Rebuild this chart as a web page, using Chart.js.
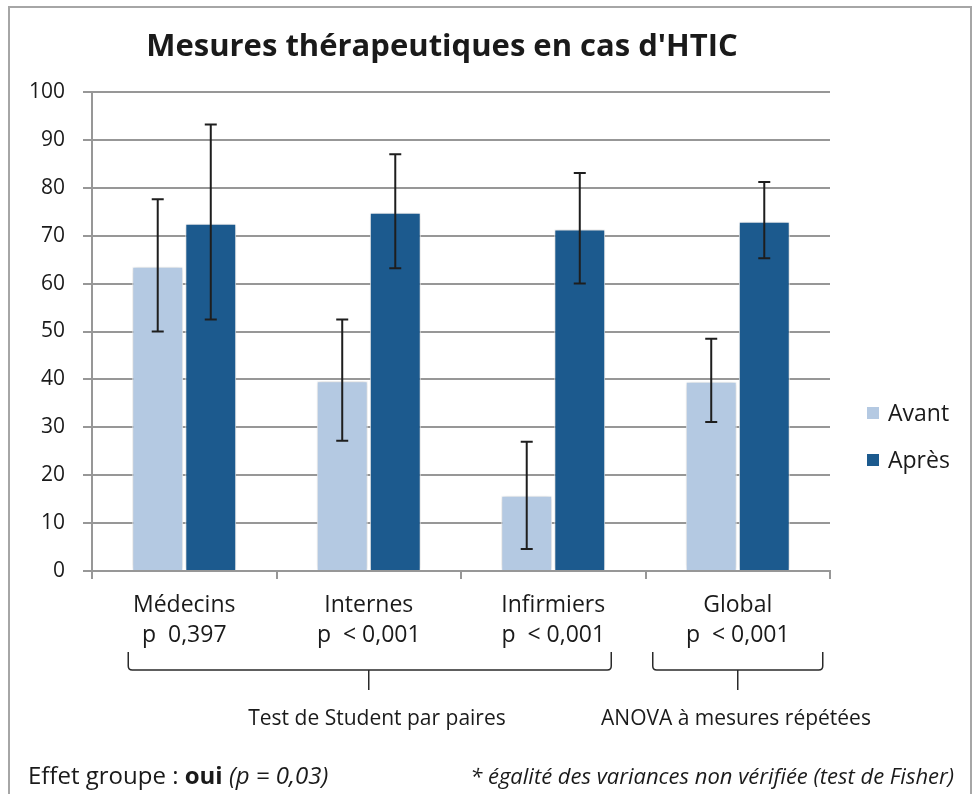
<!DOCTYPE html>
<html>
<head>
<meta charset="utf-8">
<script src="https://cdn.jsdelivr.net/npm/chart.js@4.4.1/dist/chart.umd.min.js"></script>
<style>
  body { margin: 0; background: #fff; font-family: "Open Sans", Lato, sans-serif; color: #1a1a1a; }
  #wrap { position: relative; width: 978px; height: 794px; overflow: hidden; }
  #frame { position: absolute; left: 8px; top: 6px; width: 960px; height: 820px; border: 2px solid #a6a6a6; }
  canvas { position: absolute; left: 0; top: 0; }
  .txt { position: absolute; white-space: nowrap; }
  #title { left: 0; width: 884px; top: 23px; text-align: center; font-weight: bold; font-size: 31px; line-height: 42px; }
  .leg { position: absolute; left: 867px; font-size: 23px; line-height: 30px; }
  .leg span { display: inline-block; width: 12px; height: 12px; margin-right: 9px; vertical-align: 2px; }
</style>
</head>
<body>
<div id="wrap">
  <div id="frame"></div>
  <canvas id="chart" width="978" height="794"></canvas>
  <div id="title" class="txt">Mesures thérapeutiques en cas d'HTIC</div>
  <div id="legend"></div>
  <div class="txt" style="left:227px;width:300px;text-align:center;top:703px;font-size:21px;line-height:28px;">Test de Student par paires</div>
  <div class="txt" style="left:586px;width:300px;text-align:center;top:703px;font-size:21px;line-height:28px;">ANOVA à mesures répétées</div>
  <div class="txt" style="left:28px;top:759px;font-size:24px;line-height:32px;">Effet groupe : <b>oui</b> <i>(p = 0,03)</i></div>
  <div class="txt" style="right:24px;top:760px;font-size:22px;line-height:30px;font-style:italic;">* égalité des variances non vérifiée (test de Fisher)</div>
</div>
<script>
const categories = [
  ["Médecins", "p  0,397"],
  ["Internes", "p  < 0,001"],
  ["Infirmiers", "p  < 0,001"],
  ["Global", "p  < 0,001"]
];
const avant = [63.5, 39.6, 15.7, 39.5];
const apres = [72.5, 74.8, 71.3, 72.9];
const avantLow = [50.0, 27.2, 4.6, 31.1];
const avantHigh = [77.6, 52.5, 27.0, 48.5];
const apresLow = [52.5, 63.2, 60.0, 65.3];
const apresHigh = [93.2, 87.0, 83.1, 81.2];
const yTicks = [0, 10, 20, 30, 40, 50, 60, 70, 80, 90, 100];

const gridGray = "#979797";

const errorBars = {
  id: "errorBars",
  afterDatasetsDraw(chart) {
    const ctx = chart.ctx;
    const y = chart.scales.y;
    ctx.save();
    ctx.strokeStyle = "#1e1e1e";
    ctx.lineWidth = 2;
    chart.data.datasets.forEach((ds, di) => {
      const meta = chart.getDatasetMeta(di);
      meta.data.forEach((bar, i) => {
        const top = y.getPixelForValue(ds.high[i]);
        const bot = y.getPixelForValue(ds.low[i]);
        ctx.beginPath();
        ctx.moveTo(bar.x, top);
        ctx.lineTo(bar.x, bot);
        ctx.moveTo(bar.x - 6, top);
        ctx.lineTo(bar.x + 6, top);
        ctx.moveTo(bar.x - 6, bot);
        ctx.lineTo(bar.x + 6, bot);
        ctx.stroke();
      });
    });
    ctx.restore();
  }
};

const barShadow = {
  id: "barShadow",
  beforeDatasetsDraw(chart) {
    chart.ctx.save();
    chart.ctx.shadowColor = "rgba(0,0,0,0.22)";
    chart.ctx.shadowBlur = 5;
  },
  afterDatasetsDraw(chart) {
    chart.ctx.restore();
  }
};

// curly braces under the category labels
const braces = {
  id: "braces",
  afterDraw(chart) {
    const ctx = chart.ctx;
    const x = chart.scales.x;
    function brace(x1, x2, tip) {
      const top = 652, mid = 670, end = 690, r = 4;
      ctx.beginPath();
      ctx.moveTo(x1, top);
      ctx.lineTo(x1, mid - r);
      ctx.quadraticCurveTo(x1, mid, x1 + r, mid);
      ctx.lineTo(x2 - r, mid);
      ctx.quadraticCurveTo(x2, mid, x2, mid - r);
      ctx.lineTo(x2, top);
      ctx.moveTo(tip, mid);
      ctx.lineTo(tip, end);
      ctx.stroke();
    }
    ctx.save();
    ctx.strokeStyle = "#2a2a2a";
    ctx.lineWidth = 1.5;
    brace(x.getPixelForValue(0) - 56, x.getPixelForValue(2) + 58, x.getPixelForValue(1));
    brace(x.getPixelForValue(3) - 85, x.getPixelForValue(3) + 85, x.getPixelForValue(3));
    ctx.restore();
  }
};

const chart = new Chart(document.getElementById("chart"), {
  type: "bar",
  data: {
    labels: categories,
    datasets: [
      { label: "Avant", data: avant, low: avantLow, high: avantHigh,
        backgroundColor: "#B4C9E2", borderColor: "#ffffff", borderWidth: 1 },
      { label: "Après", data: apres, low: apresLow, high: apresHigh,
        backgroundColor: "#1C5A8E", borderColor: "#ffffff", borderWidth: 1 }
    ]
  },
  options: {
    responsive: false,
    animation: false,
    layout: { padding: { left: 0, top: 92, right: 148, bottom: 0 } },
    datasets: { bar: { categoryPercentage: 0.575, barPercentage: 0.96 } },
    plugins: { legend: { display: false }, title: { display: false }, tooltip: { enabled: false } },
    scales: {
      x: {
        afterFit(scale) { scale.height = 223; },
        grid: { drawOnChartArea: false, offset: true, tickLength: 8, color: gridGray, lineWidth: 2 },
        border: { color: gridGray, width: 2 },
        ticks: { color: "#1a1a1a", padding: 12, font: { family: "Open Sans", size: 23, lineHeight: 1.3 } }
      },
      y: {
        min: 0, max: 100,
        afterFit(scale) { scale.width = 92; },
        afterBuildTicks(scale) { scale.ticks = yTicks.map(v => ({ value: v })); },
        grid: { color: gridGray, lineWidth: 2, tickLength: 9 },
        border: { color: gridGray, width: 2 },
        ticks: { color: "#1a1a1a", padding: 18, font: { family: "Open Sans", size: 21 } }
      }
    }
  },
  plugins: [barShadow, errorBars, braces]
});

// legend from the chart's datasets
const legendBox = document.getElementById("legend");
chart.data.datasets.forEach((ds, i) => {
  const d = document.createElement("div");
  d.className = "leg";
  d.style.top = (397 + i * 47) + "px";
  d.innerHTML = '<span style="background:' + ds.backgroundColor + '"></span>' + ds.label;
  legendBox.appendChild(d);
});
</script>
</body>
</html>
